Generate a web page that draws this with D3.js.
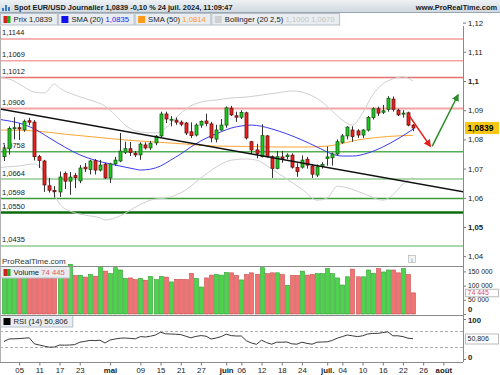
<!DOCTYPE html>
<html>
<head>
<meta charset="utf-8">
<script src="https://cdn.jsdelivr.net/npm/d3@7"></script>
<style>
  body { margin: 0; background: #fff; }
  svg text { font-family: "Liberation Sans", Arial, sans-serif; }
</style>
</head>
<body>
<script>
(function() {

  // trading days on the chart (2024), index 0 = 2 avril
  const days = [
    "04-02","04-03","04-04","04-05","04-08","04-09","04-10","04-11","04-12","04-15","04-16",
    "04-17","04-18","04-19","04-22","04-23","04-24","04-25","04-26","04-29","04-30",
    "05-01","05-02","05-03","05-06","05-07","05-08","05-09","05-10","05-13","05-14","05-15",
    "05-16","05-17","05-20","05-21","05-22","05-23","05-24","05-27","05-28","05-29","05-30","05-31",
    "06-03","06-04","06-05","06-06","06-07","06-10","06-11","06-12","06-13","06-14",
    "06-17","06-18","06-19","06-20","06-21","06-24","06-25","06-26","06-27","06-28",
    "07-01","07-02","07-03","07-04","07-05","07-08","07-09","07-10","07-11","07-12",
    "07-15","07-16","07-17","07-18","07-19","07-22","07-23","07-24",
    // future days, only for the time axis
    "07-25","07-26","07-29","07-30","07-31","08-01","08-02"
  ];

  const open = [
    1.0741,1.0768,1.0837,1.0840,1.0833,1.0864,1.0859,1.0741,1.0726,1.0641,1.0625,
    1.0620,1.0683,1.0657,1.0676,1.0658,1.0705,1.0697,1.0727,1.0695,1.0715,
    1.0668,1.0716,1.0726,1.0756,1.0768,1.0753,1.0747,1.0781,1.0771,1.0788,1.0812,
    1.0887,1.0866,1.0866,1.0859,1.0856,1.0826,1.0815,1.0849,1.0863,1.0853,1.0801,1.0832,
    1.0849,1.0907,1.0881,1.0876,1.0891,1.0792,1.0764,1.0741,1.0812,1.0741,
    1.0701,1.0740,1.0741,1.0746,1.0704,1.0705,1.0732,1.0709,1.0678,1.0708,
    1.0735,1.0737,1.0750,1.0790,1.0812,1.0832,1.0829,1.0815,1.0832,1.0875,
    1.0905,1.0893,1.0903,1.0938,1.0900,1.0887,1.0891,1.0849
  ];
  const high = [
    1.0781,1.0844,1.0876,1.0856,1.0868,1.0874,1.0866,1.0747,1.0730,1.0668,1.0640,
    1.0690,1.0690,1.0688,1.0685,1.0712,1.0719,1.0730,1.0733,1.0730,1.0720,
    1.0720,1.0740,1.0822,1.0792,1.0791,1.0760,1.0790,1.0790,1.0795,1.0815,1.0895,
    1.0895,1.0880,1.0875,1.0865,1.0860,1.0858,1.0855,1.0865,1.0888,1.0860,1.0850,1.0870,
    1.0913,1.0915,1.0895,1.0900,1.0895,1.0795,1.0785,1.0852,1.0815,1.0745,
    1.0760,1.0760,1.0752,1.0752,1.0718,1.0745,1.0740,1.0714,1.0714,1.0722,
    1.0776,1.0755,1.0800,1.0818,1.0845,1.0845,1.0835,1.0835,1.0880,1.0910,
    1.0912,1.0918,1.0948,1.0947,1.0905,1.0900,1.0895,1.0852
  ];
  const low = [
    1.0726,1.0748,1.0800,1.0798,1.0826,1.0848,1.0728,1.0702,1.0620,1.0618,1.0601,
    1.0603,1.0630,1.0610,1.0633,1.0650,1.0688,1.0680,1.0680,1.0690,1.0665,
    1.0651,1.0709,1.0722,1.0750,1.0743,1.0740,1.0730,1.0765,1.0764,1.0780,1.0808,
    1.0856,1.0845,1.0850,1.0845,1.0815,1.0805,1.0810,1.0840,1.0845,1.0790,1.0790,1.0830,
    1.0840,1.0880,1.0860,1.0870,1.0800,1.0750,1.0735,1.0738,1.0738,1.0668,
    1.0698,1.0720,1.0732,1.0700,1.0672,1.0700,1.0700,1.0668,1.0671,1.0700,
    1.0710,1.0710,1.0745,1.0785,1.0800,1.0792,1.0805,1.0805,1.0827,1.0868,
    1.0880,1.0887,1.0895,1.0895,1.0880,1.0875,1.0845,1.0828
  ];
  const close = [
    1.0768,1.0837,1.0840,1.0836,1.0862,1.0859,1.0741,1.0728,1.0644,1.0626,1.0621,
    1.0671,1.0657,1.0671,1.0669,1.0702,1.0699,1.0726,1.0695,1.0712,1.0668,
    1.0716,1.0729,1.0760,1.0768,1.0755,1.0747,1.0784,1.0771,1.0787,1.0811,1.0887,
    1.0870,1.0869,1.0859,1.0852,1.0822,1.0813,1.0849,1.0861,1.0855,1.0805,1.0832,1.0849,
    1.0908,1.0884,1.0876,1.0892,1.0805,1.0764,1.0752,1.0813,1.0741,1.0701,
    1.0741,1.0735,1.0746,1.0705,1.0690,1.0729,1.0712,1.0681,1.0706,1.0714,
    1.0740,1.0750,1.0792,1.0812,1.0842,1.0810,1.0815,1.0832,1.0875,1.0905,
    1.0890,1.0898,1.0941,1.0903,1.0884,1.0890,1.0849,1.0839
  ];
  const volume = [
    150000,160000,140000,135000,145000,130000,162000,150000,158000,145000,148000,
    155000,150000,175000,135000,136000,130000,139000,133000,167000,151000,
    142000,163000,155000,125000,127000,121000,125000,119000,132000,121000,132000,
    130000,113000,122000,122000,121000,143000,125000,95000,127000,137000,139000,137000,
    146000,145000,136000,120000,139000,145000,140000,163000,142000,145000,
    145000,139000,101000,136000,136000,151000,137000,139000,142000,142000,
    160000,142000,127000,102000,131000,158000,131000,131000,155000,143000,
    160000,148000,155000,155000,145000,160000,139000,74445
  ];
  const rsi = [
    44,50,50.5,51,52,53,38,35,32,29.5,30,
    35,34.5,35,36,42,44,46.5,46,47,40,
    47.5,50,52,52.5,51.5,50.5,56,55,57,60,67,
    63,62.5,62,61,57,53,56.5,58.5,57,50,52.5,56,
    62,58.5,57.5,57.5,45.5,40,36.7,47,41,37,
    42,42,42.5,38,37,42,39,37,42,42.5,
    43,46.5,52,56,60,58,56,58,62.5,64,
    64,66,68,58,58,56,52,50.806
  ];

  const sma20Idx = [-1,0,3,6,9,12,15,18,21,24,26,27,29,31,33,35,37,39,41,43,45,47,49,51,53,56,59,62,65,67,69,72,75,78,81];
  const sma20 = [1.0869,1.0866,1.0856,1.0836,1.0805,1.0774,1.0747,1.0729,1.0716,1.0705,1.0698,1.0695,1.0698,1.0709,
    1.0729,1.0750,1.0774,1.0795,1.0812,1.0826,1.0839,1.0846,1.0849,1.0845,1.0836,1.0819,1.0798,1.0774,
    1.0750,1.0743,1.0743,1.0753,1.0774,1.0802,1.0835];
  const sma50Idx = [-1,0,6,12,18,24,30,36,42,48,54,60,64,67,70,73,76,79,81];
  const sma50 = [1.0832,1.0832,1.0829,1.0818,1.0808,1.0798,1.0791,1.0784,1.0777,1.0776,1.0774,1.0774,1.0777,
    1.0786,1.0798,1.0805,1.0810,1.0813,1.0814];
  const bollUpIdx = [-1,1,3,6,8,10,11,14,17,20,22,24,27,30,32,34,36,39,42,45,48,51,54,57,59,61,63,65,67,69,71,73,75,77,79,81];
  const bollUp = [1.1012,1.1007,1.0990,1.0962,1.0959,1.0990,1.0976,1.0952,1.0935,1.0914,1.0884,1.0849,1.0825,1.0822,
    1.0839,1.0873,1.0904,1.0928,1.0935,1.0942,1.0945,1.0952,1.0959,1.0966,1.0962,1.0949,1.0928,1.0897,
    1.0866,1.0849,1.0890,1.0952,1.0990,1.1007,1.1014,1.1000];
  const bollLowIdx = [-1,0,3,6,8,10,11,13,16,19,20,23,26,29,33,36,39,42,45,48,50,53,56,59,62,64,66,68,71,75,77,79,81];
  const bollLow = [1.0702,1.0705,1.0709,1.0716,1.0688,1.0610,1.0579,1.0555,1.0541,1.0531,1.0524,1.0538,1.0568,1.0592,
    1.0603,1.0627,1.0668,1.0705,1.0729,1.0733,1.0729,1.0699,1.0664,1.0630,1.0592,1.0599,1.0640,1.0634,
    1.0616,1.0592,1.0610,1.0647,1.0670];

  // horizontal support / resistance levels
  const levels = [1.1144, 1.1069, 1.1012, 1.0906, 1.0758, 1.0664, 1.0598, 1.0550, 1.0435];
  const levelLabels = ["1,1144","1,1069","1,1012","1,0906","1,0758","1,0664","1,0598","1,0550","1,0435"];

  // drawn trendline and arrows (trading-day position, price)
  const trendIdx = [-0.8, 92];
  const trendPrice = [1.0904, 1.0617];
  const redArrowIdx = [80, 84.4];
  const redArrowPrice = [1.0887, 1.0777];
  const greenArrowIdx = [84.8, 89.9];
  const greenArrowPrice = [1.0777, 1.0952];

  // tick labels
  const priceTicks = [1.04, 1.05, 1.06, 1.07, 1.08, 1.09, 1.10, 1.11, 1.12];
  const volTicks = [0, 50000, 100000, 150000];
  const volTickLabels = ["0", "50 000", "100 000", "150 000"];
  const tickDays = ["04-05","04-11","04-17","04-23","05-01","05-09","05-15","05-21","05-27","06-03","06-06",
    "06-12","06-18","06-24","07-01","07-04","07-10","07-16","07-22","07-26","08-01"];
  const tickLabels = ["05","11","17","23","mai","09","15","21","27","juin","06",
    "12","18","24","juil.","04","10","16","22","26","août"];
  const monthLabels = ["mai", "juin", "juil.", "août"];

  // styles of the level lines (same order as levels)
  const levelColor = ["#f7b4b4","#f5a3a3","#e57070","#f4a3a3","#55b055","#acd8ac","#3c9c3c","#0c6c0c","#acd8ac"];
  const levelWidth = [2, 1.5, 1.5, 2, 1.5, 2, 1.5, 2.5, 2];

  let svg = "";
  const plotRight = 463;

  const fmt = (v) => v.toFixed(4).replace(".", ",");

  window.onload = function() {
    svg = d3.select("body").append("svg")
      .attr("width", 500)
      .attr("height", 375)
      .style("display", "block");

    let x = d3.scaleLinear().domain([0, 87]).range([4, 4 + 87 * 5.05]);
    let y = d3.scaleLinear().domain([1.04, 1.12]).range([256.2, 22.6]);
    let yVol = d3.scaleLinear().domain([0, 150000]).range([314, 271.4]);
    let yRsi = d3.scaleLinear().domain([0, 100]).range([359, 319]);
    let cx = (i) => Math.round(x(i)) + 0.5;

    let defs = svg.append("defs");
    defs.append("clipPath").attr("id", "clipPrice")
      .append("rect").attr("x", 0).attr("y", 26).attr("width", plotRight).attr("height", 240);
    let grad = defs.append("linearGradient").attr("id", "titleGrad")
      .attr("x1", 0).attr("y1", 0).attr("x2", 0).attr("y2", 1);
    grad.append("stop").attr("offset", "0%").attr("stop-color", "#eef2f5");
    grad.append("stop").attr("offset", "100%").attr("stop-color", "#cfd8df");
    [["arrRed", "#e4211c"], ["arrGreen", "#2c8c2c"]].forEach(function(m) {
      defs.append("marker").attr("id", m[0])
        .attr("viewBox", "0 0 10 10").attr("refX", 8).attr("refY", 5)
        .attr("markerWidth", 5).attr("markerHeight", 5)
        .attr("orient", "auto")
        .append("path").attr("d", "M0,0L10,5L0,10z").attr("fill", m[1]);
    });

    drawHeader();

    // ---------- price panel ----------
    let price = svg.append("g").attr("clip-path", "url(#clipPrice)");

    price.selectAll(".level")
      .data(levels)
      .enter()
      .append("line")
        .attr("x1", 0).attr("x2", plotRight)
        .attr("y1", (d) => y(d)).attr("y2", (d) => y(d))
        .attr("stroke", (d, i) => levelColor[i])
        .attr("stroke-width", (d, i) => levelWidth[i]);

    price.selectAll(".levelLabel")
      .data(levels)
      .enter()
      .append("text")
        .attr("x", 2)
        .attr("y", (d) => y(d) - 3.5)
        .attr("font-size", 7.5)
        .attr("fill", "#222")
        .text((d, i) => levelLabels[i]);

    let curve = d3.line().curve(d3.curveMonotoneX);
    let series = function(idx, vals) { return idx.map((d, i) => [x(d), y(vals[i])]); };

    price.append("path").attr("d", curve(series(bollUpIdx, bollUp)))
      .attr("fill", "none").attr("stroke", "#cfcfcf").attr("stroke-width", 1);
    price.append("path").attr("d", curve(series(bollLowIdx, bollLow)))
      .attr("fill", "none").attr("stroke", "#cfcfcf").attr("stroke-width", 1);
    price.append("path").attr("d", curve(series(sma50Idx, sma50)))
      .attr("fill", "none").attr("stroke", "#ffa533").attr("stroke-width", 1);
    price.append("path").attr("d", curve(series(sma20Idx, sma20)))
      .attr("fill", "none").attr("stroke", "#3b3bf0").attr("stroke-width", 1);

    // candles
    let candles = price.selectAll(".candle")
      .data(open)
      .enter()
      .append("g");

    candles.append("line")
      .attr("x1", (d, i) => cx(i)).attr("x2", (d, i) => cx(i))
      .attr("y1", (d, i) => y(high[i])).attr("y2", (d, i) => y(low[i]))
      .attr("stroke", "#333").attr("stroke-width", 1);

    candles.append("rect")
      .attr("x", (d, i) => cx(i) - 1.5)
      .attr("width", 3)
      .attr("y", (d, i) => y(Math.max(open[i], close[i])))
      .attr("height", (d, i) => Math.max(1, Math.abs(y(open[i]) - y(close[i]))))
      .attr("fill", (d, i) => close[i] >= open[i] ? "#1ec81e" : "#e8231e")
      .attr("stroke", (d, i) => close[i] >= open[i] ? "#145c14" : "#6a1010")
      .attr("stroke-width", 0.8);

    // trendline and arrows
    price.append("line")
      .attr("x1", x(trendIdx[0])).attr("y1", y(trendPrice[0]))
      .attr("x2", x(trendIdx[1])).attr("y2", y(trendPrice[1]))
      .attr("stroke", "#111").attr("stroke-width", 1.5);

    price.append("line")
      .attr("x1", x(redArrowIdx[0])).attr("y1", y(redArrowPrice[0]))
      .attr("x2", x(redArrowIdx[1])).attr("y2", y(redArrowPrice[1]))
      .attr("stroke", "#e4211c").attr("stroke-width", 1.5)
      .attr("marker-end", "url(#arrRed)");

    price.append("line")
      .attr("x1", x(greenArrowIdx[0])).attr("y1", y(greenArrowPrice[0]))
      .attr("x2", x(greenArrowIdx[1])).attr("y2", y(greenArrowPrice[1]))
      .attr("stroke", "#2c8c2c").attr("stroke-width", 1.5)
      .attr("marker-end", "url(#arrGreen)");

    // watermark and info icon
    svg.append("text").attr("x", 2).attr("y", 264)
      .attr("font-size", 8).attr("fill", "#333")
      .text("ProRealTime.com");
    svg.append("rect").attr("x", 408.5).attr("y", 255.5).attr("width", 7).attr("height", 7)
      .attr("fill", "#f4f4f4").attr("stroke", "#aaa").attr("stroke-width", 0.6);
    svg.append("text").attr("x", 412).attr("y", 261.5).attr("text-anchor", "middle")
      .attr("font-size", 6).attr("fill", "#777").text("i");

    // right price axis
    let yAxis = d3.axisRight(y)
      .tickValues(priceTicks)
      .tickSize(3)
      .tickPadding(2)
      .tickFormat((d) => String(+d.toFixed(2)).replace(".", ","));
    let ya = svg.append("g").attr("transform", "translate(" + plotRight + ",0)").call(yAxis);
    styleAxis(ya, 7.8);
    ya.selectAll("text")
      .attr("font-weight", (d) => (Math.abs(d - 1.1) < 1e-9 || Math.abs(d - 1.05) < 1e-9) ? "bold" : "normal");

    valueTag(y(close[close.length - 1]), fmt(close[close.length - 1]), "#f7c713", "#f7c713", "#000", true, 11);

    // ---------- volume panel ----------
    let vol = svg.append("g");
    vol.selectAll(".vol")
      .data(volume)
      .enter()
      .append("rect")
        .attr("x", (d, i) => cx(i) - 2)
        .attr("width", 4)
        .attr("y", (d) => yVol(d))
        .attr("height", (d) => yVol(0) - yVol(d))
        .attr("fill", (d, i) => close[i] >= open[i] ? "#4fd34f" : "#f07474")
        .attr("stroke", (d, i) => close[i] >= open[i] ? "#2b9e2b" : "#c94c4c")
        .attr("stroke-width", 0.6);

    let volAxis = d3.axisRight(yVol)
      .tickValues(volTicks)
      .tickSize(3)
      .tickPadding(2)
      .tickFormat((d, i) => volTickLabels[i]);
    let va = svg.append("g").attr("transform", "translate(" + plotRight + ",0)").call(volAxis);
    styleAxis(va, 6.8);
    va.selectAll("text")
      .attr("font-weight", (d) => d === 0 ? "bold" : "normal")
      .attr("font-size", (d) => d === 0 ? 7.8 : 6.8)
      .attr("dy", (d) => d === 0 ? "-0.3em" : "0.32em");

    valueTag(yVol(volume[volume.length - 1]), "74 445", "#fff", "#bbb", "#e05050", false, 7.5);

    legendBox(0.5, 266.5, [["icon2"], ["Volume ", "#222"], ["74 445", "#e06060"]]);

    // ---------- RSI panel ----------
    [70, 30].forEach(function(v) {
      svg.append("line")
        .attr("x1", 0).attr("x2", plotRight)
        .attr("y1", yRsi(v) + 0.5).attr("y2", yRsi(v) + 0.5)
        .attr("stroke", "#999").attr("stroke-width", 0.8)
        .attr("stroke-dasharray", "3,2");
    });

    svg.append("path")
      .attr("d", d3.line()(rsi.map((d, i) => [x(i), yRsi(d)])))
      .attr("fill", "none").attr("stroke", "#3a3a3a").attr("stroke-width", 1);

    let rsiAxis = d3.axisRight(yRsi)
      .tickValues([0, 100])
      .tickSize(3)
      .tickPadding(2)
      .tickFormat((d) => d);
    let ra = svg.append("g").attr("transform", "translate(" + plotRight + ",0)").call(rsiAxis);
    styleAxis(ra, 7.8);
    ra.selectAll("text").attr("font-weight", "bold")
      .attr("dy", (d) => d === 0 ? "0" : "0.5em");

    valueTag(yRsi(rsi[rsi.length - 1]), "50,806", "#fff", "#bbb", "#222", false, 10);

    legendBox(0.5, 315.5, [["black"], ["RSI (14) 50,806", "#222"]]);

    // ---------- panel frames ----------
    [266, 315, 362].forEach(function(v) {
      svg.append("line")
        .attr("x1", 0).attr("x2", plotRight)
        .attr("y1", v + 0.5).attr("y2", v + 0.5)
        .attr("stroke", "#8a8a8a").attr("stroke-width", 1);
    });
    svg.append("line")
      .attr("x1", plotRight + 0.5).attr("x2", plotRight + 0.5)
      .attr("y1", 26).attr("y2", 362)
      .attr("stroke", "#8a8a8a").attr("stroke-width", 1);
    svg.append("line")
      .attr("x1", 0.5).attr("x2", 0.5)
      .attr("y1", 26).attr("y2", 362)
      .attr("stroke", "#b0b0b0").attr("stroke-width", 1);

    // ---------- time axis ----------
    let xAxis = d3.axisBottom(x)
      .tickValues(tickDays.map((d) => days.indexOf(d)))
      .tickSize(3)
      .tickPadding(2)
      .tickFormat((d, i) => tickLabels[i]);
    let xa = svg.append("g").attr("transform", "translate(0,362.5)").call(xAxis);
    styleAxis(xa, 7.8);
    xa.selectAll("text")
      .attr("font-weight", (d, i) => monthLabels.includes(tickLabels[i]) ? "bold" : "normal");
  };

  // header bar and indicator legend
  function drawHeader() {
    svg.append("rect")
      .attr("x", 0).attr("y", 0).attr("width", 500).attr("height", 12.5)
      .attr("fill", "url(#titleGrad)");
    svg.append("line")
      .attr("x1", 0).attr("x2", 500).attr("y1", 12.5).attr("y2", 12.5)
      .attr("stroke", "#9aa7b2").attr("stroke-width", 1);

    // little chart icon
    [[2, 6], [5, 3], [8, 5]].forEach(function(b) {
      svg.append("rect").attr("x", b[0]).attr("y", 2 + b[1]).attr("width", 2).attr("height", 9 - b[1])
        .attr("fill", "#3a7cc8");
    });

    svg.append("text")
      .attr("x", 14).attr("y", 9.5)
      .attr("font-size", 7.4).attr("font-weight", "bold").attr("fill", "#1a1a1a")
      .text("Spot EUR/USD Journalier 1,0839 -0,10 % 24 juil. 2024, 11:09:47");

    svg.append("text")
      .attr("x", 497).attr("y", 9.5).attr("text-anchor", "end")
      .attr("font-size", 7.4).attr("font-weight", "bold").attr("fill", "#1a1a1a")
      .text("www.ProRealTime.com");

    let bx = 0.5;
    bx = legendBox(bx, 13.5, [["icon2"], ["Prix 1,0839", "#222"]]) + 1;
    bx = legendBox(bx, 13.5, [["#1010f0"], ["SMA (20) ", "#222"], ["1,0835", "#2020f0"]]) + 1;
    bx = legendBox(bx, 13.5, [["#ff9a1a"], ["SMA (50) ", "#222"], ["1,0814", "#ff9a1a"]]) + 1;
    legendBox(bx, 13.5, [["#d0d0d0"], ["Bollinger (20 2,5) ", "#222"], ["1,1000 1,0670", "#c6c6c6"]]);
  }

  // grey box with a colour chip and a line of text; returns its right edge
  function legendBox(x0, y0, parts) {
    let g = svg.append("g");
    let box = g.append("rect")
      .attr("x", x0).attr("y", y0).attr("height", 11.5)
      .attr("fill", "#e9edf1").attr("stroke", "#b5bfc8").attr("stroke-width", 1);

    let chip = parts[0][0];
    if (chip === "icon2") {
      g.append("rect").attr("x", x0 + 3).attr("y", y0 + 2.5).attr("width", 3.5).attr("height", 7).attr("fill", "#d42020");
      g.append("rect").attr("x", x0 + 6.5).attr("y", y0 + 2.5).attr("width", 3.5).attr("height", 7).attr("fill", "#20b020");
    } else {
      g.append("rect").attr("x", x0 + 3).attr("y", y0 + 2.5).attr("width", 7).attr("height", 7).attr("fill", chip);
    }

    let t = g.append("text")
      .attr("x", x0 + 13).attr("y", y0 + 8.8)
      .attr("font-size", 7.7);
    parts.slice(1).forEach(function(p) {
      t.append("tspan").attr("fill", p[1]).text(p[0]);
    });
    let w = t.node().getComputedTextLength() + 18;
    box.attr("width", w);
    return x0 + w;
  }

  // value box on the right axis
  function valueTag(yy, label, fill, stroke, color, bold, h) {
    svg.append("rect")
      .attr("x", 465.5).attr("y", Math.round(yy) - h / 2)
      .attr("width", 33).attr("height", h)
      .attr("fill", fill).attr("stroke", stroke).attr("stroke-width", 1);
    svg.append("text")
      .attr("x", 467.5).attr("y", Math.round(yy))
      .attr("dy", "0.35em")
      .attr("font-size", bold ? 8.5 : 7)
      .attr("font-weight", bold ? "bold" : "normal")
      .attr("fill", color)
      .text(label);
  }

  function styleAxis(g, size) {
    g.select(".domain").remove();
    g.selectAll(".tick line").attr("stroke", "#777");
    g.selectAll("text")
      .attr("font-family", "Liberation Sans, Arial, sans-serif")
      .attr("font-size", size)
      .attr("fill", "#222");
  }

})();
</script>
</body>
</html>
